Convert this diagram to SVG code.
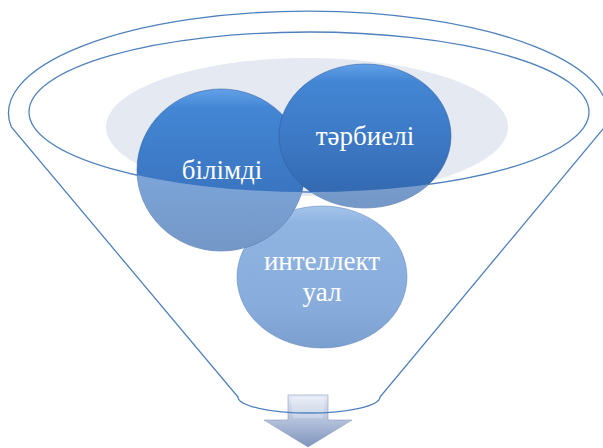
<svg xmlns="http://www.w3.org/2000/svg" width="603" height="448" viewBox="0 0 603 448">
  <defs>
    <style>
      .rim { fill: none; stroke: #4f81bd; stroke-width: 1.3; }
      .lbl { font-family: "Liberation Serif", "Times New Roman", serif; font-size: 27px; fill: #ffffff; text-anchor: middle; }
      .dark { fill: url(#gDark); stroke: #2d5c9c; stroke-opacity: 0.55; stroke-width: 1; }
      .light { fill: url(#gLight); stroke: #5d84b8; stroke-opacity: 0.5; stroke-width: 1; }
    </style>
    <linearGradient id="gDark" x1="0" y1="0" x2="0" y2="1">
      <stop offset="0" stop-color="#62a1e8"/>
      <stop offset="0.12" stop-color="#4386d4"/>
      <stop offset="0.6" stop-color="#3b76c2"/>
      <stop offset="1" stop-color="#3065ab"/>
    </linearGradient>
    <linearGradient id="gLight" x1="0" y1="0" x2="0" y2="1">
      <stop offset="0" stop-color="#a4c4ea"/>
      <stop offset="0.12" stop-color="#8fb4e2"/>
      <stop offset="0.7" stop-color="#88addc"/>
      <stop offset="1" stop-color="#7b9fcf"/>
    </linearGradient>
    <linearGradient id="gArrow" x1="0" y1="0" x2="0" y2="1">
      <stop offset="0" stop-color="#e6ecf6"/>
      <stop offset="0.45" stop-color="#b7c5de"/>
      <stop offset="1" stop-color="#7f93bb"/>
    </linearGradient>
    <clipPath id="belowRim">
      <path clip-rule="evenodd" d="M0 0 H603 V448 H0 Z M29 112 A280 80 0 1 0 589 112 A280 80 0 1 0 29 112 Z"/>
    </clipPath>
  </defs>

  <g id="arrow">
    <polygon points="288,395 328,395 328,420 352,420 308,447 264,420 288,420" fill="url(#gArrow)" stroke="#8a9cc0" stroke-width="0.6"/>
    <polygon points="291,397 325,397 323,418 293,418" fill="#ffffff" opacity="0.25"/>
  </g>

  <g id="funnel">
    <path class="rim" d="M11.3 127 A299.5 102 0 1 1 604.7 127 L380 397 A71 16 0 0 1 238 397 Z"/>
    <ellipse cx="307" cy="127" rx="201" ry="69" fill="#e4e9f2"/>
    <ellipse class="rim" cx="309" cy="112" rx="280" ry="80"/>
  </g>

  <g id="node-intellektual">
    <ellipse class="light" cx="322" cy="277" rx="85" ry="71"/>
    <text class="lbl" x="322" y="270">интеллект</text>
    <text class="lbl" x="322" y="301">уал</text>
  </g>

  <g id="node-bilimdi">
    <ellipse class="dark" cx="221" cy="170" rx="84" ry="81"/>
    <ellipse cx="221" cy="170" rx="84" ry="81" fill="#ffffff" fill-opacity="0.33" clip-path="url(#belowRim)"/>
    <text class="lbl" x="222" y="179">білімді</text>
  </g>

  <g id="node-tarbieli">
    <ellipse class="dark" cx="365" cy="136" rx="86" ry="72"/>
    <ellipse cx="365" cy="136" rx="86" ry="72" fill="#ffffff" fill-opacity="0.33" clip-path="url(#belowRim)"/>
    <text class="lbl" x="365" y="145">тәрбиелі</text>
  </g>
</svg>
